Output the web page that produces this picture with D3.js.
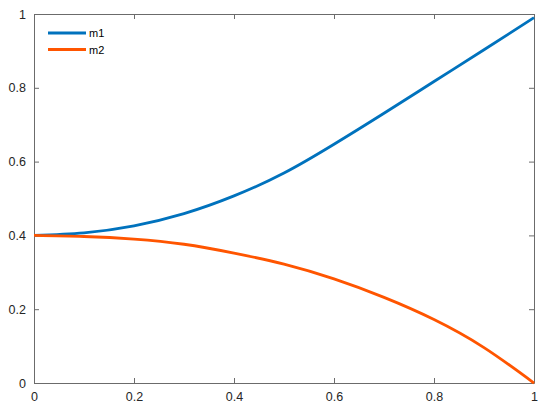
<!DOCTYPE html>
<html><head><meta charset="utf-8">
<script src="https://cdn.jsdelivr.net/npm/d3@7"></script>
<style>body{margin:0;background:#fff}svg{display:block}</style>
</head><body>
<script>
const xVals = [0, 0.1, 0.2, 0.3, 0.4, 0.5, 0.6, 0.7, 0.8, 0.9, 1.0];
const m1 = [0.400, 0.407, 0.426, 0.459, 0.507, 0.569, 0.647, 0.731, 0.817, 0.903, 0.990];
const m2 = [0.400, 0.397, 0.390, 0.376, 0.352, 0.322, 0.282, 0.232, 0.172, 0.096, 0.000];
const seriesNames = ["m1", "m2"];
const seriesColors = ["#0072BD", "#FF5500"];
const xTicks = [0, 0.2, 0.4, 0.6, 0.8, 1];
const yTicks = [0, 0.2, 0.4, 0.6, 0.8, 1];

const W = 550, H = 414;
const L = 34, R = 534, T = 14, B = 383;
const svg = d3.select("body").append("svg").attr("width", W).attr("height", H);
const x = d3.scaleLinear().domain([0, 1]).range([L, R]);
const y = d3.scaleLinear().domain([0, 1]).range([B, T]);
const fmt = d => d === 0 ? "0" : d === 1 ? "1" : String(d);

const axColor = "#6b6b6b";
const font = "'Liberation Sans', Arial, sans-serif";

const gx = svg.append("g").attr("transform", `translate(0,${B})`)
  .call(d3.axisBottom(x).tickValues(xTicks).tickFormat(fmt).tickSizeInner(-5).tickSizeOuter(0).tickPadding(9));
const gxt = svg.append("g").attr("transform", `translate(0,${T})`)
  .call(d3.axisTop(x).tickValues(xTicks).tickFormat("").tickSizeInner(-5).tickSizeOuter(0));
const gy = svg.append("g").attr("transform", `translate(${L},0)`)
  .call(d3.axisLeft(y).tickValues(yTicks).tickFormat(fmt).tickSizeInner(-5).tickSizeOuter(0).tickPadding(8));
const gyr = svg.append("g").attr("transform", `translate(${R},0)`)
  .call(d3.axisRight(y).tickValues(yTicks).tickFormat("").tickSizeInner(-5).tickSizeOuter(0));
[gx, gxt, gy, gyr].forEach(g => {
  g.select(".domain").attr("stroke", axColor);
  g.selectAll(".tick line").attr("stroke", axColor);
  g.selectAll("text").attr("font-family", font).attr("font-size", 12.5).attr("fill", "#262626");
});

const line = d3.line().curve(d3.curveNatural);
[m1, m2].forEach((s, i) => {
  svg.append("path")
    .attr("d", line(xVals.map((v, j) => [x(v), y(s[j])])))
    .attr("fill", "none").attr("stroke", seriesColors[i]).attr("stroke-width", 2.8);
});

const leg = svg.append("g");
seriesNames.forEach((n, i) => {
  const ly = 33 + i * 16.5;
  leg.append("line").attr("x1", 48).attr("x2", 86).attr("y1", ly).attr("y2", ly)
    .attr("stroke", seriesColors[i]).attr("stroke-width", 2.8);
  leg.append("text").attr("x", 89).attr("y", ly + 4).text(n)
    .attr("font-family", font).attr("font-size", 11).attr("fill", "#000");
});
</script>
</body></html>
